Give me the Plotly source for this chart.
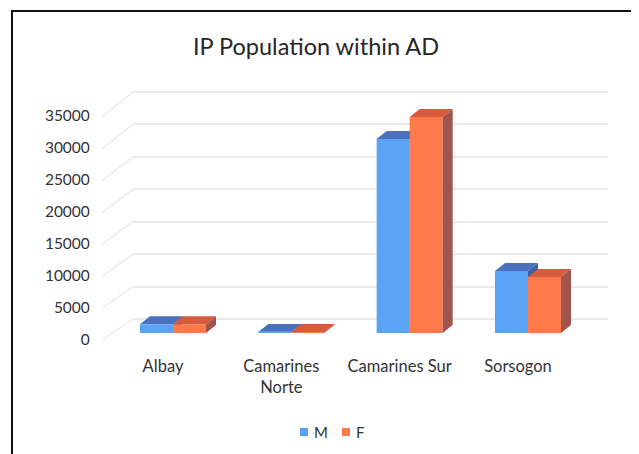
import plotly.graph_objects as go

# ---------------- data ----------------
categories = ["Albay", "Camarines Norte", "Camarines Sur", "Sorsogon"]
category_labels = ["Albay", "Camarines<br>Norte", "Camarines Sur", "Sorsogon"]
male = [1350, 150, 30300, 9700]
female = [1350, 150, 33750, 8750]
y_ticks = [0, 5000, 10000, 15000, 20000, 25000, 30000, 35000]
series_names = ["M", "F"]

# ---------------- styling / geometry ----------------
W, H = 639, 454
OFF = 8  # page body margin
FONT = "Lato"
TXT = "#333333"
M_FRONT, M_TOP, M_SIDE = "#5AA2F2", "#4A70BE", "#3D5E9C"
F_FRONT, F_TOP, F_SIDE = "#FF7A4A", "#D65A3C", "#A1544C"
GRID = "#ebebeb"

def fx(px):
    return (px - OFF) / W

def fy(px):
    return (H - (px - OFF)) / H

# front (bar) plane
BAR_X0, BAR_X1 = 113.85, 587.15
BAR_Y0 = 333.0                 # value 0
PX_PER_UNIT = 224.0 / 35000.0  # vertical scale of the bar plane
Y2_MAX = 37000
BAR_YTOP = BAR_Y0 - Y2_MAX * PX_PER_UNIT
BARGAP = 0.442
BW = (1 - BARGAP) / 2          # single bar width in x units
PX_PER_X = (BAR_X1 - BAR_X0) / 4.0
DX = 10.0 / PX_PER_X           # depth offset in x units
DY = 8.0 / PX_PER_UNIT         # depth offset in value units

# back wall
BACK_X0, BACK_X1 = 133.0, 608.0
BACK_Y0, BACK_PX = 319.0, 227.0 / 35000.0
PAD = 500
# side wall front edge
SIDE_FRONT_X, FRONT_Y0, FRONT_PX = 102.0, 340.0, 223.0 / 35000.0

fig = go.Figure()

# back wall subplot (gridlines only)
fig.add_trace(go.Scatter(x=[], y=[], xaxis="x", yaxis="y", showlegend=False, hoverinfo="skip"))

xs = list(range(len(categories)))
fig.add_trace(go.Bar(x=xs, y=male, name=series_names[0], marker=dict(color=M_FRONT, line=dict(width=0)),
                     xaxis="x2", yaxis="y2", showlegend=False))
fig.add_trace(go.Bar(x=xs, y=female, name=series_names[1], marker=dict(color=F_FRONT, line=dict(width=0)),
                     xaxis="x2", yaxis="y2", showlegend=False))

shapes = []
annotations = []
# side wall lines
for v in y_ticks:
    shapes.append(dict(type="line", xref="paper", yref="paper",
                       x0=fx(SIDE_FRONT_X), y0=fy(FRONT_Y0 - v * FRONT_PX),
                       x1=fx(BACK_X0), y1=fy(BACK_Y0 - v * BACK_PX),
                       line=dict(color=GRID, width=1.5), layer="below"))

# 3-D faces of the bars
for i in xs:
    for vals, start, top_c, side_c, layer in (
        (male, -BW, M_TOP, M_SIDE, "between"),
        (female, 0.0, F_TOP, F_SIDE, "above"),
    ):
        v = vals[i]
        x0 = i + start
        x1 = x0 + BW
        side = f"M {x1},0 L {x1 + DX},{DY} L {x1 + DX},{v + DY} L {x1},{v} Z"
        top = f"M {x0},{v} L {x1},{v} L {x1 + DX},{v + DY} L {x0 + DX},{v + DY} Z"
        shapes.append(dict(type="path", xref="x2", yref="y2", path=side,
                           fillcolor=side_c, line=dict(width=0), layer=layer))
        shapes.append(dict(type="path", xref="x2", yref="y2", path=top,
                           fillcolor=top_c, line=dict(width=0), layer=layer))

# legend (compact, Excel-like)
LEG_Y = 432
for name, color, sq_x in zip(series_names, [M_FRONT, F_FRONT], [300, 342]):
    shapes.append(dict(type="rect", xref="paper", yref="paper",
                       x0=fx(sq_x), x1=fx(sq_x + 8), y0=fy(LEG_Y + 4), y1=fy(LEG_Y - 4),
                       fillcolor=color, line=dict(width=0), layer="above"))
    annotations.append(dict(text=name, xref="paper", yref="paper", x=fx(sq_x + 12), y=fy(LEG_Y),
                            xanchor="left", yanchor="middle", showarrow=False,
                            font=dict(family=FONT, size=15, color=TXT)))

# chart border (left + top)
shapes.append(dict(type="path", xref="paper", yref="paper",
                   path=f"M {fx(12)},{fy(470)} L {fx(12)},{fy(11)} L {fx(660)},{fy(11)}",
                   line=dict(color="#111111", width=2), layer="above"))

fig.update_layout(
    width=W, height=H,
    margin=dict(l=0, r=0, t=0, b=0, autoexpand=False),
    paper_bgcolor="white", plot_bgcolor="rgba(0,0,0,0)",
    font=dict(family=FONT, color=TXT, size=15),
    title=dict(text="IP Population within AD", x=fx(316), y=fy(47), xanchor="center", yanchor="middle",
               xref="paper", yref="paper", font=dict(family=FONT, size=23.5, color="#262626")),
    barmode="group", bargap=BARGAP, bargroupgap=0,
    showlegend=False,
    xaxis=dict(domain=[fx(BACK_X0), fx(BACK_X1)], range=[0, 1], showgrid=False, zeroline=False,
               showticklabels=False, showline=False, fixedrange=True),
    yaxis=dict(domain=[fy(BACK_Y0 + PAD * BACK_PX), fy(BACK_Y0 - (35000 + PAD) * BACK_PX)],
               range=[-PAD, 35000 + PAD], tickvals=y_ticks, showgrid=True, gridcolor=GRID, gridwidth=1.5,
               zeroline=False, showticklabels=False, showline=False, anchor="x"),
    xaxis2=dict(domain=[fx(BAR_X0), fx(BAR_X1)], range=[-0.5, 3.5], anchor="y2",
                tickvals=xs, ticktext=category_labels, showgrid=False, zeroline=False, showline=False,
                ticks="", ticklabelshift=-10, ticklabelstandoff=21,
                tickfont=dict(size=16.5, color=TXT)),
    yaxis2=dict(domain=[fy(BAR_Y0), fy(BAR_YTOP)], range=[0, Y2_MAX], anchor="x2",
                tickvals=y_ticks, ticktext=[str(t) for t in y_ticks],
                showgrid=False, zeroline=False, showline=False, ticks="",
                ticklabelshift=7, ticklabelstandoff=23, tickfont=dict(size=15.5, color=TXT)),
    annotations=annotations,
)
fig.update_layout(shapes=shapes)

fig.write_html("out.html")
